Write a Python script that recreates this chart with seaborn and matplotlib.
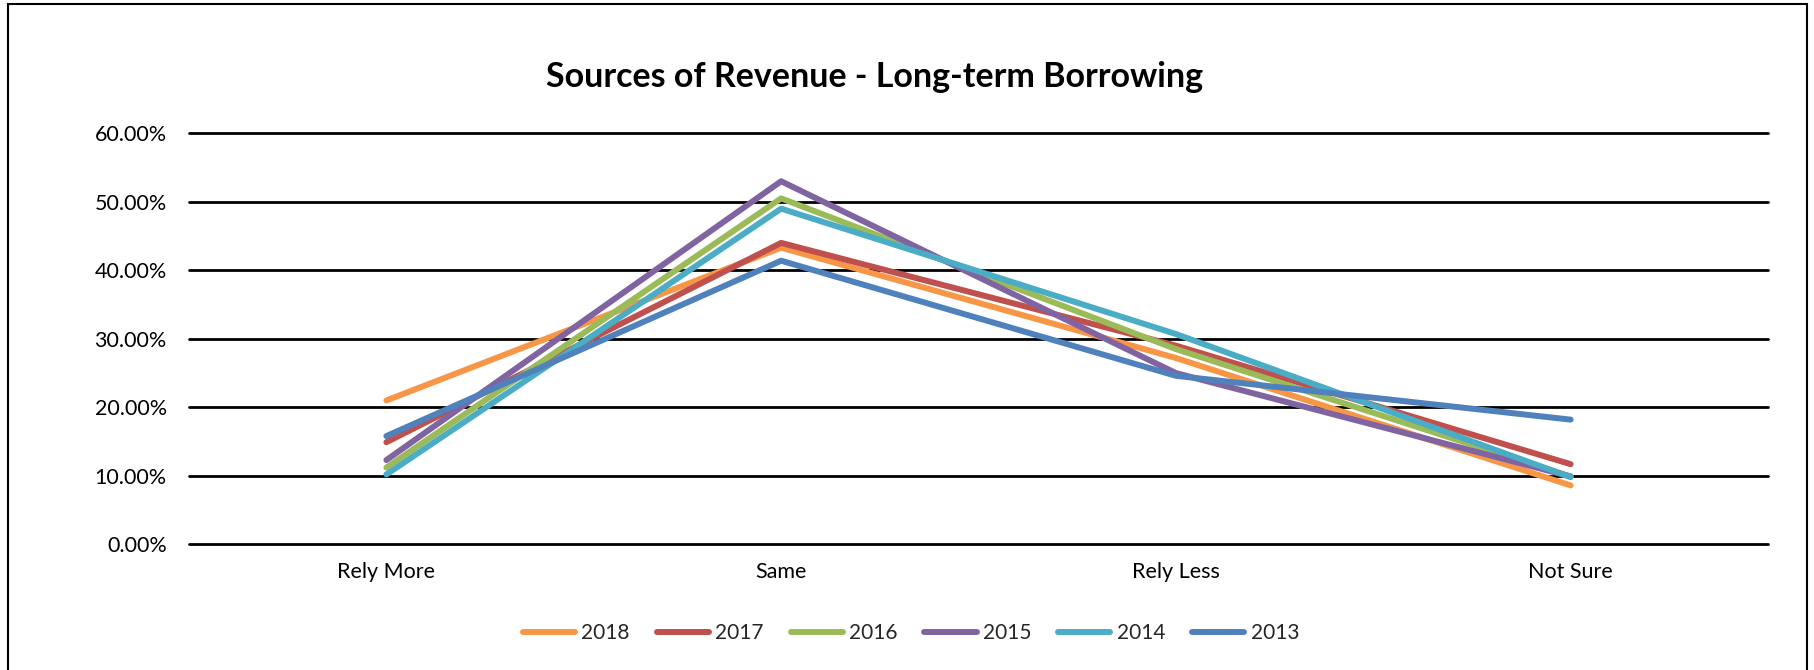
import matplotlib
matplotlib.use("Agg")
import matplotlib.pyplot as plt
import seaborn as sns
import pandas as pd
from matplotlib.patches import Rectangle
from matplotlib.ticker import FuncFormatter

categories = ["Rely More", "Same", "Rely Less", "Not Sure"]
years = ["2018", "2017", "2016", "2015", "2014", "2013"]
v2018 = [21.0, 43.3, 27.2, 8.6]
v2017 = [14.9, 44.0, 29.0, 11.7]
v2016 = [11.2, 50.5, 28.5, 9.9]
v2015 = [12.3, 53.0, 25.0, 9.9]
v2014 = [10.2, 49.0, 30.7, 9.8]
v2013 = [15.8, 41.4, 24.6, 18.2]
colors = ["#F79646", "#C0504D", "#9BBB59", "#8064A2", "#4BACC6", "#4F81BD"]

series = [v2018, v2017, v2016, v2015, v2014, v2013]
rows = []
for y, vals in zip(years, series):
    for c, v in zip(categories, vals):
        rows.append({"Category": c, "Year": y, "Value": v / 100.0})
df = pd.DataFrame(rows)

sns.set_theme(style="white")
plt.rcParams["font.family"] = ["Lato", "DejaVu Sans"]

fig = plt.figure(figsize=(18.14, 6.70), dpi=100)
ax = fig.add_axes([189 / 1814, 1 - 544.3 / 670, (1768 - 189) / 1814, (544.3 - 133.3) / 670])

ax.set_ylim(0, 0.6)
ax.set_yticks([0, 0.1, 0.2, 0.3, 0.4, 0.5, 0.6])
ax.yaxis.grid(True, color="black", linewidth=2.0)
ax.set_axisbelow(True)

sns.lineplot(data=df, x="Category", y="Value", hue="Year", hue_order=years,
             palette=colors, linewidth=4.3, sort=False, ax=ax,
             solid_capstyle="round", legend=True)

ax.set_xlim(-0.5, 3.5)
ax.set_xlabel("")
ax.set_ylabel("")
for s in ax.spines.values():
    s.set_visible(False)
ax.yaxis.set_major_formatter(FuncFormatter(lambda v, p: f"{v*100:.2f}%"))
ax.tick_params(axis="both", length=0, colors="black")
ax.tick_params(axis="y", pad=16, labelsize=15.5)
ax.tick_params(axis="x", pad=13, labelsize=15.5)
for gl in ax.get_ygridlines():
    gl.set_clip_on(False)

handles, labels = ax.get_legend_handles_labels()
ax.get_legend().remove()
leg = fig.legend(handles, labels, loc="center", bbox_to_anchor=(911 / 1814, 1 - 633 / 670),
                 ncol=6, frameon=False, fontsize=15, handlelength=2.5,
                 handletextpad=0.3, columnspacing=1.3)
for h in leg.get_lines():
    h.set_linewidth(4.3)
    h.set_solid_capstyle("round")

fig.text(875 / 1814, 1 - 77 / 670, "Sources of Revenue - Long-term Borrowing",
         ha="center", va="center", fontsize=24.5, fontweight="bold", color="black")

fig.patches.append(Rectangle((8 / 1814, -0.05), (1807 - 8) / 1814, 1.05 - 4 / 670,
                             transform=fig.transFigure, fill=False,
                             edgecolor="black", linewidth=1.5))

fig.savefig("out.png", dpi=100)
